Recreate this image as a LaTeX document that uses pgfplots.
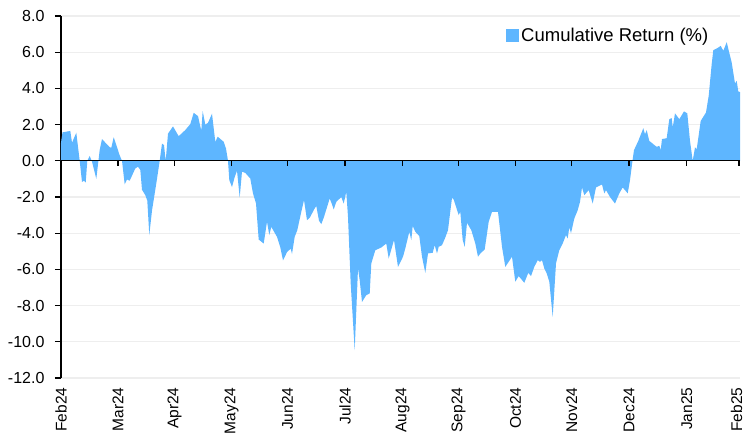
\documentclass[border=0pt]{standalone}
\usepackage{fontspec}
\setmainfont{Liberation Sans}
\usepackage{pgfplots}
\pgfplotsset{compat=1.18}
\definecolor{areablue}{RGB}{94,182,255}
\definecolor{gridgray}{RGB}{238,238,238}
\begin{document}
\begin{tikzpicture}
\useasboundingbox (-61pt,-61pt) rectangle (684pt,378pt);
\begin{axis}[
  at={(0pt,0pt)}, anchor=south west,
  scale only axis, width=679pt, height=362pt,
  xmin=61, xmax=740, ymin=-12, ymax=8,
  axis y line*=left, axis x line*=bottom,
  x axis line style={draw=none},
  y axis line style={black, line width=1.3pt},
  ytick={-12,-10,...,8},
  yticklabel={\pgfmathprintnumber[fixed,fixed zerofill,precision=1,assume math mode=true]{\tick}},
  ytick style={black, line width=1.3pt},
  tick align=outside, major tick length=6pt,
  xtick={61,118,174.5,231.5,287.5,345,402.5,458.5,515.5,571.7,629,686.7,736.5},
  xticklabels={Feb24,Mar24,Apr24,May24,Jun24,Jul24,Aug24,Sep24,Oct24,Nov24,Dec24,Jan25,Feb25},
  xtick style={draw=none},
  xticklabel style={rotate=90, anchor=east, font=\fontsize{15.5}{18}\selectfont},
  yticklabel style={font=\fontsize{16}{19}\selectfont, xshift=-7pt},
  ymajorgrids, major grid style={gridgray, line width=1.3pt},
  legend style={draw=none, fill=none, at={(0.961,0.977)}, anchor=north east,
    font=\fontsize{18.5}{21}\selectfont, legend cell align=left},
  legend image code/.code={\fill[#1] (0pt,-6.5pt) rectangle (13pt,6.5pt);},
]
\addplot[fill=areablue, draw=none] table[row sep=\\] {
x y\\
61 0\\
61 1.0\\
62.5 1.57\\
70.3 1.65\\
72 1.0\\
76.3 1.55\\
79.7 0.0\\
82 -1.17\\
84 -1.1\\
85.7 -1.2\\
87.3 0.0\\
89.7 0.27\\
92 -0.05\\
96.3 -1.0\\
99.7 0.6\\
102 1.2\\
109.7 0.75\\
111.3 0.72\\
113.7 1.3\\
119.7 0.3\\
122 0.0\\
124.7 -1.3\\
127 -1.03\\
129.7 -1.1\\
135.3 -0.42\\
138 -0.33\\
140.3 -0.5\\
142 -1.6\\
145.3 -1.9\\
147.3 -2.2\\
149.3 -4.1\\
152 -2.75\\
156.3 -1.25\\
159.7 0.0\\
162 0.95\\
164 0.87\\
165.7 0.0\\
168 1.5\\
173 1.9\\
178.7 1.36\\
185.3 1.7\\
190.3 2.03\\
193.7 2.65\\
198 2.47\\
201.3 1.66\\
202.7 2.75\\
205.3 2.0\\
208 2.1\\
212 2.6\\
215.3 1.05\\
217.7 1.33\\
223.7 1.05\\
226 0.68\\
228 0.0\\
229.3 -1.07\\
232 -1.45\\
234.7 -0.9\\
237 -0.55\\
239.7 -2.03\\
242 -0.6\\
245.3 -0.67\\
250.3 -0.98\\
253 -1.8\\
256 -2.35\\
258.7 -4.35\\
263.7 -4.57\\
267 -3.37\\
269.3 -4.1\\
271.3 -3.65\\
277 -4.2\\
280.3 -4.78\\
283 -5.5\\
287 -5.05\\
290.7 -4.85\\
292 -5.15\\
294.7 -4.2\\
297.3 -3.83\\
301.3 -2.82\\
304 -2.17\\
307 -3.28\\
309.7 -3.15\\
314.7 -2.63\\
316.3 -2.5\\
319 -3.31\\
321.3 -3.5\\
324 -3.1\\
329.7 -2.08\\
332.3 -2.45\\
333.7 -2.69\\
336.3 -2.27\\
341.3 -2.0\\
343.7 -2.36\\
346.3 -1.71\\
348 -3.1\\
350.7 -6.78\\
354.7 -10.46\\
358 -5.95\\
359.7 -6.6\\
362 -7.8\\
366.3 -7.42\\
369.7 -7.33\\
371.3 -5.67\\
375.3 -4.94\\
381.3 -4.79\\
386.3 -4.57\\
388.7 -5.4\\
394 -4.38\\
398 -5.86\\
403 -5.3\\
405.3 -4.84\\
409.3 -3.92\\
411.3 -4.38\\
412.7 -3.6\\
415.3 -3.92\\
419.3 -4.16\\
422 -5.3\\
425.3 -6.19\\
428 -5.12\\
432.7 -5.08\\
434.7 -4.66\\
437 -5.12\\
438.7 -4.75\\
442 -4.66\\
445.3 -4.24\\
448 -3.83\\
452 -2.04\\
453.7 -2.14\\
458.7 -3.0\\
460.3 -2.82\\
462.7 -4.38\\
464.7 -4.75\\
467 -3.43\\
471.3 -3.83\\
475.3 -4.57\\
478 -5.3\\
480.3 -5.12\\
484.7 -4.9\\
488.7 -3.37\\
492 -2.82\\
498 -2.82\\
502 -4.75\\
505.3 -5.86\\
512 -5.3\\
515.3 -6.68\\
518.7 -6.37\\
524.3 -6.74\\
528.3 -6.19\\
531 -6.37\\
534.3 -5.86\\
537.7 -5.49\\
540 -5.58\\
542 -5.49\\
544.3 -5.95\\
546.7 -6.22\\
549.3 -6.68\\
552.7 -8.62\\
556 -5.67\\
559.3 -4.94\\
562.7 -4.57\\
566 -4.1\\
567.7 -4.29\\
569.3 -3.68\\
571 -4.0\\
574.3 -3.19\\
577.7 -2.73\\
580 -2.27\\
582 -1.47\\
584.3 -1.9\\
588.7 -1.62\\
592.7 -2.36\\
596 -1.47\\
602 -1.31\\
604.3 -1.8\\
606 -1.62\\
610 -2.0\\
615 -2.36\\
619.3 -1.8\\
622.7 -1.47\\
627.7 -1.8\\
630 -1.07\\
632.7 0.09\\
634 0.59\\
638.3 1.1\\
643.3 1.8\\
645 1.47\\
646.7 1.69\\
649.3 1.1\\
653.3 0.92\\
656.7 0.77\\
659.3 0.83\\
660.7 0.59\\
662 1.2\\
666.7 1.25\\
669.3 2.3\\
671.7 2.36\\
672.7 1.84\\
675 2.62\\
679.3 2.3\\
684 2.73\\
687.3 2.62\\
690 1.1\\
692.7 0.0\\
695 0.74\\
696.7 0.64\\
700.7 2.2\\
706 2.67\\
708.7 3.59\\
711.7 5.34\\
713.3 6.11\\
717.3 6.22\\
720.7 6.35\\
723.3 6.08\\
726.7 6.55\\
731.7 5.43\\
735 4.27\\
736.7 4.42\\
738.3 3.83\\
740 3.8\\
740 0\\
} \closedcycle;
\addlegendentry{Cumulative Return (\%)}
\draw[black, line width=1.3pt] (axis cs:61,0) -- (axis cs:740,0);
\pgfplotsinvokeforeach{118,174.5,231.5,287.5,345,402.5,458.5,515.5,571.7,629,686.7,739}{
  \draw[black, line width=1.3pt] (axis cs:#1,0) -- ++(0pt,-5pt);
}
\end{axis}
\end{tikzpicture}
\end{document}
